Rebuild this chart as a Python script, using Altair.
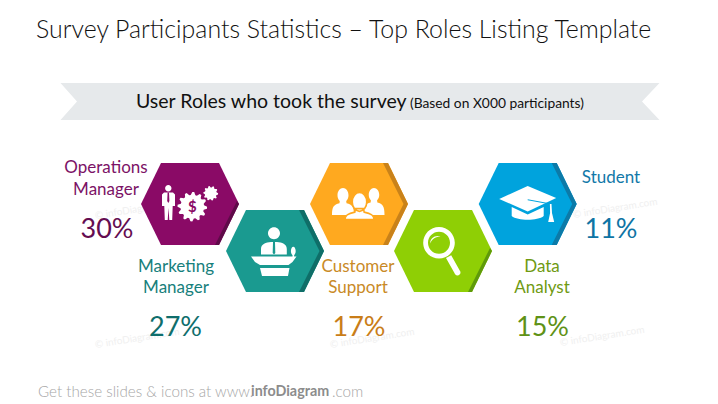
import math
import re
import altair as alt
import pandas as pd

# ---- chart values
ROLE_LINES = [["Operations", "Manager"], ["Marketing", "Manager"], ["Customer", "Support"], ["Data", "Analyst"], ["Student"]]
PERCENTS = [30, 27, 17, 15, 11]
TITLE = "Survey Participants Statistics \u2013 Top Roles Listing Template"
BANNER_MAIN = "User Roles who took the survey"
BANNER_SUB = "(Based on X000 participants)"
FOOT = ["Get these slides & icons at www.", "infoDiagram", ".com"]
WATERMARK = "\u00a9 infoDiagram.com"

# ---- styles and layout
HEX_FILL = ["#8a0a66", "#1a9a90", "#ffa91f", "#8fcf05", "#00a3dd"]
HEX_SHADE = ["#5e0a48", "#0f6e68", "#c9821a", "#5f9a0a", "#0c7aa8"]
LABEL_COL = ["#7c1266", "#17807c", "#c98a26", "#6f9a12", "#1278a8"]
PCT_COL = ["#640c50", "#0f6e6c", "#c97d18", "#5f9216", "#0f74a4"]
HEX_X = [190, 275, 359, 443, 527.7]
HEX_Y = [204, 251, 204, 251, 204]
LABEL_X = [106, 176, 358, 542, 611]
LABEL_Y = [168, 266.5, 266.5, 266.5, 178]
PCT_X = [107, 175.5, 359, 542.5, 611]
PCT_Y = [230, 328, 328, 328, 230]
LINE_GAP = 21.5
R = 49.0
SIZE = (2 * R) ** 2
FONT = "Lato"


def path(s):
    """Turn a path written in pixel offsets into symbol units."""
    return re.sub(r"-?\d+\.?\d*", lambda m: f"{float(m.group()) / R:.4f}", s)


def poly(pts):
    return "M" + " L".join(f"{a:.2f} {b:.2f}" for a, b in pts) + " Z "


def circle(cx, cy, rx, ry=None, ccw=False):
    ry = rx if ry is None else ry
    k = 0.5523
    s = -1 if ccw else 1
    return (
        f"M{cx - rx:.2f} {cy:.2f} "
        f"C{cx - rx:.2f} {cy - s * k * ry:.2f} {cx - k * rx:.2f} {cy - s * ry:.2f} {cx:.2f} {cy - s * ry:.2f} "
        f"C{cx + k * rx:.2f} {cy - s * ry:.2f} {cx + rx:.2f} {cy - s * k * ry:.2f} {cx + rx:.2f} {cy:.2f} "
        f"C{cx + rx:.2f} {cy + s * k * ry:.2f} {cx + k * rx:.2f} {cy + s * ry:.2f} {cx:.2f} {cy + s * ry:.2f} "
        f"C{cx - k * rx:.2f} {cy + s * ry:.2f} {cx - rx:.2f} {cy + s * k * ry:.2f} {cx - rx:.2f} {cy:.2f} Z "
    )


def gear(cx, cy, rad, teeth):
    pts = []
    n = teeth * 4
    for i in range(n):
        a = 2 * math.pi * i / n
        r = rad if i % 4 in (0, 1) else rad * 0.8
        pts.append((cx + r * math.cos(a), cy + r * math.sin(a)))
    return poly(pts)


def person(cx, top, w, h):
    hr = w * 0.25
    neck = top + hr * 2.5
    return (
        circle(cx, top + hr * 1.3, hr, hr * 1.3)
        + f"M{cx - w * 0.14:.2f} {neck - 2:.2f} L{cx + w * 0.14:.2f} {neck - 2:.2f} "
        + f"L{cx + w * 0.16:.2f} {neck + 1.5:.2f} C{cx + w * 0.42:.2f} {neck + 3:.2f} {cx + w * 0.5:.2f} {neck + 5:.2f} {cx + w * 0.5:.2f} {top + h:.2f} "
        + f"L{cx - w * 0.5:.2f} {top + h:.2f} C{cx - w * 0.5:.2f} {neck + 5:.2f} {cx - w * 0.42:.2f} {neck + 3:.2f} {cx - w * 0.16:.2f} {neck + 1.5:.2f} Z "
    )


HEX_PATH = poly([(-R, 0), (-29, -41), (29, -41), (R, 0), (29, 41), (-29, 41)])
SHADE_FULL = poly([(26, -41), (29, -41), (R, 0), (29, 41), (24, 41), (44.5, 0), (24, -41)])
SHADE_LOW = poly([(47, -3), (R, 0), (29, 41), (25, 41)])
SHADES = [SHADE_LOW, SHADE_FULL, SHADE_FULL, SHADE_LOW, SHADE_FULL]
BANNER_PATH = poly([(-299.5, -18.5), (299.5, -18.5), (282, 0), (299.5, 18.5), (-299.5, 18.5), (-283, 0)])

WHITE = "#ffffff"
icons = []


def add(i, p, col=WHITE, stroke="none", sw=0):
    icons.append({"x": HEX_X[i], "y": HEX_Y[i], "shape": path(p), "fill": col, "stroke": stroke, "sw": sw})


# operations manager: person and gears
add(0, circle(-21.7, -15.7, 3.2)
    + poly([(-26, -11.5), (-17, -11.5), (-15, -9.5), (-15, 2), (-17.3, 2), (-17.8, 16), (-20.7, 16), (-21.5, 4),
            (-22.3, 16), (-25.2, 16), (-25.7, 2), (-28, 2), (-28, -9.5)]))
add(0, poly([(-22.4, -11.5), (-21, -11.5), (-20.6, -3), (-21.7, -1), (-22.8, -3)]), HEX_FILL[0])
add(0, gear(2.3, 2.7, 14.8, 12) + gear(20.7, -10.7, 7.4, 10))
# marketing manager: speaker at a lectern
add(1, circle(-1, -17.7, 6)
    + f"M-14 3.5 L-14 -2 C-14 -7 -9 -8.5 -4 -9 L2 -9 C7 -8.5 11.8 -7 11.8 -2 L11.8 3.5 Z "
    + poly([(-24, 5.5), (21.5, 5.5), (17.5, 11), (13.5, 14), (-15, 14), (-20, 11)])
    + poly([(-15, 17), (14.5, 17), (13, 25), (-13, 25)])
    + circle(18.3, 0, 2.4, 4.3) + poly([(17.5, 0), (19.2, 0), (19.2, 6), (17.5, 6)]))
add(1, poly([(-2, -9), (0, -9), (0.3, 2), (-1, 3.4), (-2.3, 2)]), HEX_FILL[1])
# customer support: three people
add(2, person(-16, -16, 22, 27))
add(2, person(15, -16, 21, 27))
add(2, person(0.5, -11.5, 29, 27), WHITE, HEX_FILL[2], 1.6)
# data analyst: magnifier
add(3, circle(-4, -8.3, 15.8) + circle(-4, -8.3, 11, ccw=True)
    + poly([(3, 7), (8.2, 4.3), (17, 20), (12, 23)]) + circle(14.5, 21.5, 3))
add(3, "M-13 -7.5 C-12.5 -13 -8 -16 -2.5 -14.5 C-7 -14.5 -11 -12 -13 -7.5 Z")
# student: graduation cap
add(4, poly([(-28.5, -5), (0, -18), (28.5, -6), (0, 7.5)]))
add(4, "M-16 3 L0 10.5 L16 3 L16 12 C10 17 -10 17 -16 12 Z ")
add(4, poly([(0, -4.8), (23, -0.5), (23, 0.6), (0, -3.8)]), HEX_FILL[4])
add(4, poly([(22.2, 0), (23.8, 0), (24.3, 9), (26.5, 18), (20.5, 18), (22.4, 9)]))

# ---- tables
hex_df = pd.DataFrame(
    [{"x": x, "y": y, "shape": path(HEX_PATH), "fill": f} for x, y, f in zip(HEX_X, HEX_Y, HEX_FILL)]
    + [{"x": x, "y": y, "shape": path(p), "fill": s} for x, y, s, p in zip(HEX_X, HEX_Y, HEX_SHADE, SHADES)]
)
deco_df = pd.DataFrame([
    {"x": 360, "y": 101.5, "shape": path(BANNER_PATH), "fill": "#e6e9eb"},
])
icon_df = pd.DataFrame(icons)

label_rows = []
for i, lines in enumerate(ROLE_LINES):
    for j, t in enumerate(lines):
        label_rows.append({"x": LABEL_X[i], "y": LABEL_Y[i] + j * LINE_GAP, "t": t, "c": LABEL_COL[i], "s": 17})
    label_rows.append({"x": PCT_X[i], "y": PCT_Y[i], "t": f"{PERCENTS[i]}%", "c": PCT_COL[i], "s": 27})
label_df = pd.DataFrame(label_rows)

wm_df = pd.DataFrame({"x": [95, 95, 330, 560, 573], "y": [345, 216, 345, 343, 215], "t": [WATERMARK] * 5})
dollar_df = pd.DataFrame({"x": [HEX_X[0] + 2.3], "y": [HEX_Y[0] + 3], "t": ["$"]})

X = alt.X("x:Q", scale=alt.Scale(domain=[8, 710], range=[0, 702]), axis=None)
Y = alt.Y("y:Q", scale=alt.Scale(domain=[8, 404], range=[0, 396]), axis=None)


def shapes(df):
    return alt.Chart(df).mark_point(filled=True, opacity=1, size=SIZE).encode(
        x=X, y=Y,
        shape=alt.Shape("shape:N", scale=None),
        fill=alt.Fill("fill:N", scale=None),
    )


def line(text, x, y, size, color, weight=400, align="left", font=FONT):
    df = pd.DataFrame({"x": [x], "y": [y], "t": [text]})
    return alt.Chart(df).mark_text(font=font, fontSize=size, fontWeight=weight, color=color,
                                   align=align, baseline="middle").encode(x=X, y=Y, text="t:N")


icon_layer = alt.Chart(icon_df).mark_point(filled=True, opacity=1, size=SIZE).encode(
    x=X, y=Y,
    shape=alt.Shape("shape:N", scale=None),
    fill=alt.Fill("fill:N", scale=None),
    stroke=alt.Stroke("stroke:N", scale=None),
    strokeWidth=alt.StrokeWidth("sw:Q", scale=None),
    order=alt.Order("idx:Q"),
).transform_window(idx="row_number()")

labels = alt.Chart(label_df).mark_text(font=FONT, align="center", baseline="middle").encode(
    x=X, y=Y, text="t:N",
    color=alt.Color("c:N", scale=None),
    size=alt.Size("s:Q", scale=None),
)
watermarks = alt.Chart(wm_df).mark_text(font=FONT, fontSize=10, color="#f0f0f0", angle=351, align="left",
                                        baseline="middle").encode(x=X, y=Y, text="t:N")
dollar = alt.Chart(dollar_df).mark_text(font=FONT, fontSize=15, fontWeight=700, color=HEX_FILL[0], align="center",
                                        baseline="middle").encode(x=X, y=Y, text="t:N")

chart = alt.layer(
    watermarks,
    shapes(deco_df),
    shapes(hex_df),
    icon_layer,
    dollar,
    labels,
    line(TITLE, 36, 30.5, 24.9, "#111111", weight=300),
    line(BANNER_MAIN, 136, 102, 19.5, "#111111"),
    line(BANNER_SUB, 410, 103.5, 13.8, "#111111"),
    line(FOOT[0], 38, 391.5, 15.2, "#a6a6a6", weight=300),
    line(FOOT[1], 251, 391.5, 14.3, "#8c8c8c", weight=700),
    line(FOOT[2], 332, 391.5, 15.2, "#a6a6a6", weight=300),
).properties(
    width=702, height=396, padding=0, autosize=alt.AutoSizeParams(type="none"),
    background="#ffffff",
).configure_view(stroke=None)

chart.save("out.html", embed_options={"renderer": "svg", "actions": False})
